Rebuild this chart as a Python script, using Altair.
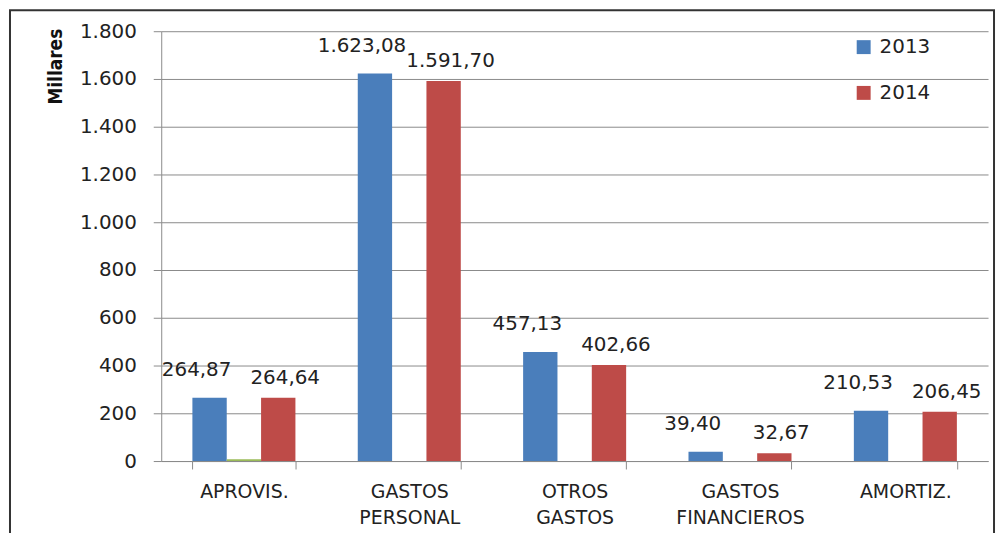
import altair as alt
import pandas as pd

categorias = ["APROVIS.", "GASTOS PERSONAL", "OTROS GASTOS", "GASTOS FINANCIEROS", "AMORTIZ."]
valores_2013 = [264.87, 1623.08, 457.13, 39.40, 210.53]
valores_2014 = [264.64, 1591.70, 402.66, 32.67, 206.45]
valores_serie3 = [8, 0, 0, 0, 0]
series = ["2013", "Serie 3", "2014"]
series_leyenda = ["2013", "2014"]
colores = ["#4A7EBB", "#9BBB59", "#BE4B48"]
y_ticks = [0, 200, 400, 600, 800, 1000, 1200, 1400, 1600, 1800]

FONT = "DejaVu Sans"
TXT = "#222222"
GRID = "#8a8a8a"


def fmt_es(v):
    s = f"{v:,.2f}"
    return s.replace(",", "X").replace(".", ",").replace("X", ".")


rows = []
for i, c in enumerate(categorias):
    for s, vals in zip(series, [valores_2013, valores_serie3, valores_2014]):
        rows.append({
            "cat": c,
            "serie": s,
            "valor": vals[i],
            "etiqueta": fmt_es(vals[i]) if s != "Serie 3" else "",
        })
df = pd.DataFrame(rows)

x_enc = alt.X(
    "cat:N",
    sort=categorias,
    scale=alt.Scale(paddingInner=0.377, paddingOuter=0.1885),
    axis=alt.Axis(
        title=None,
        labelAngle=0,
        labelExpr="split(datum.label, ' ')",
        labelFont=FONT,
        labelFontSize=19,
        labelColor=TXT,
        labelLineHeight=26,
        labelPadding=14,
        tickBand="extent",
        tickSize=8,
        tickColor=GRID,
        domainColor=GRID,
        grid=False,
    ),
)
xoff_enc = alt.XOffset("serie:N", sort=series, scale=alt.Scale(paddingInner=0, paddingOuter=0))
y_enc = alt.Y(
    "valor:Q",
    scale=alt.Scale(domain=[0, 1800], nice=False),
    axis=alt.Axis(
        values=y_ticks,
        labelExpr="replace(format(datum.value, ','), ',', '.')",
        labelFont=FONT,
        labelFontSize=20,
        labelColor=TXT,
        labelPadding=17,
        tickSize=8,
        tickColor=GRID,
        domainColor=GRID,
        gridColor=GRID,
        title="Millares",
        titleFont="DejaVu Sans Condensed",
        titleFontSize=19,
        titleFontWeight="bold",
        titleColor="#111111",
        titleAngle=270,
        titleAlign="right",
        titleBaseline="alphabetic",
        titleX=-100,
        titleY=-3,
    ),
)

bars = alt.Chart(df).mark_bar().encode(
    x=x_enc,
    xOffset=xoff_enc,
    y=y_enc,
    color=alt.Color(
        "serie:N",
        scale=alt.Scale(domain=series, range=colores),
        legend=alt.Legend(
            values=series_leyenda,
            title=None,
            orient="none",
            legendX=696,
            legendY=6,
            symbolType="square",
            symbolSize=196,
            symbolStrokeWidth=0,
            labelFont=FONT,
            labelFontSize=20,
            labelColor=TXT,
            labelOffset=6,
            rowPadding=26,
            padding=0,
        ),
    ),
)


def etiquetas(serie, dx, dy):
    return alt.Chart(df).transform_filter(
        alt.datum.serie == serie
    ).mark_text(
        dx=dx, dy=dy, baseline="middle", align="center", fontSize=20, font=FONT, color=TXT
    ).encode(
        x=alt.X("cat:N", sort=categorias),
        xOffset=alt.XOffset("serie:N", sort=series),
        y=alt.Y("valor:Q"),
        text="etiqueta:N",
    )


labels_2013 = etiquetas("2013", -13, -28)
labels_2014 = etiquetas("2014", 7, -20)

border = alt.Chart(pd.DataFrame({"k": [0]})).mark_rect(
    fill="transparent", stroke="#333333", strokeWidth=2
).encode(
    x=alt.value(-152), x2=alt.value(837), y=alt.value(-21), y2=alt.value(540)
)

chart = alt.layer(bars, labels_2013, labels_2014, border).properties(
    width=831,
    height=432,
    padding={"left": 154, "top": 22, "right": 9, "bottom": 71},
    autosize=alt.AutoSizeParams(type="none"),
    background="white",
).configure_view(stroke=None)

chart.save("out.html", embed_options={"renderer": "svg", "actions": False})
